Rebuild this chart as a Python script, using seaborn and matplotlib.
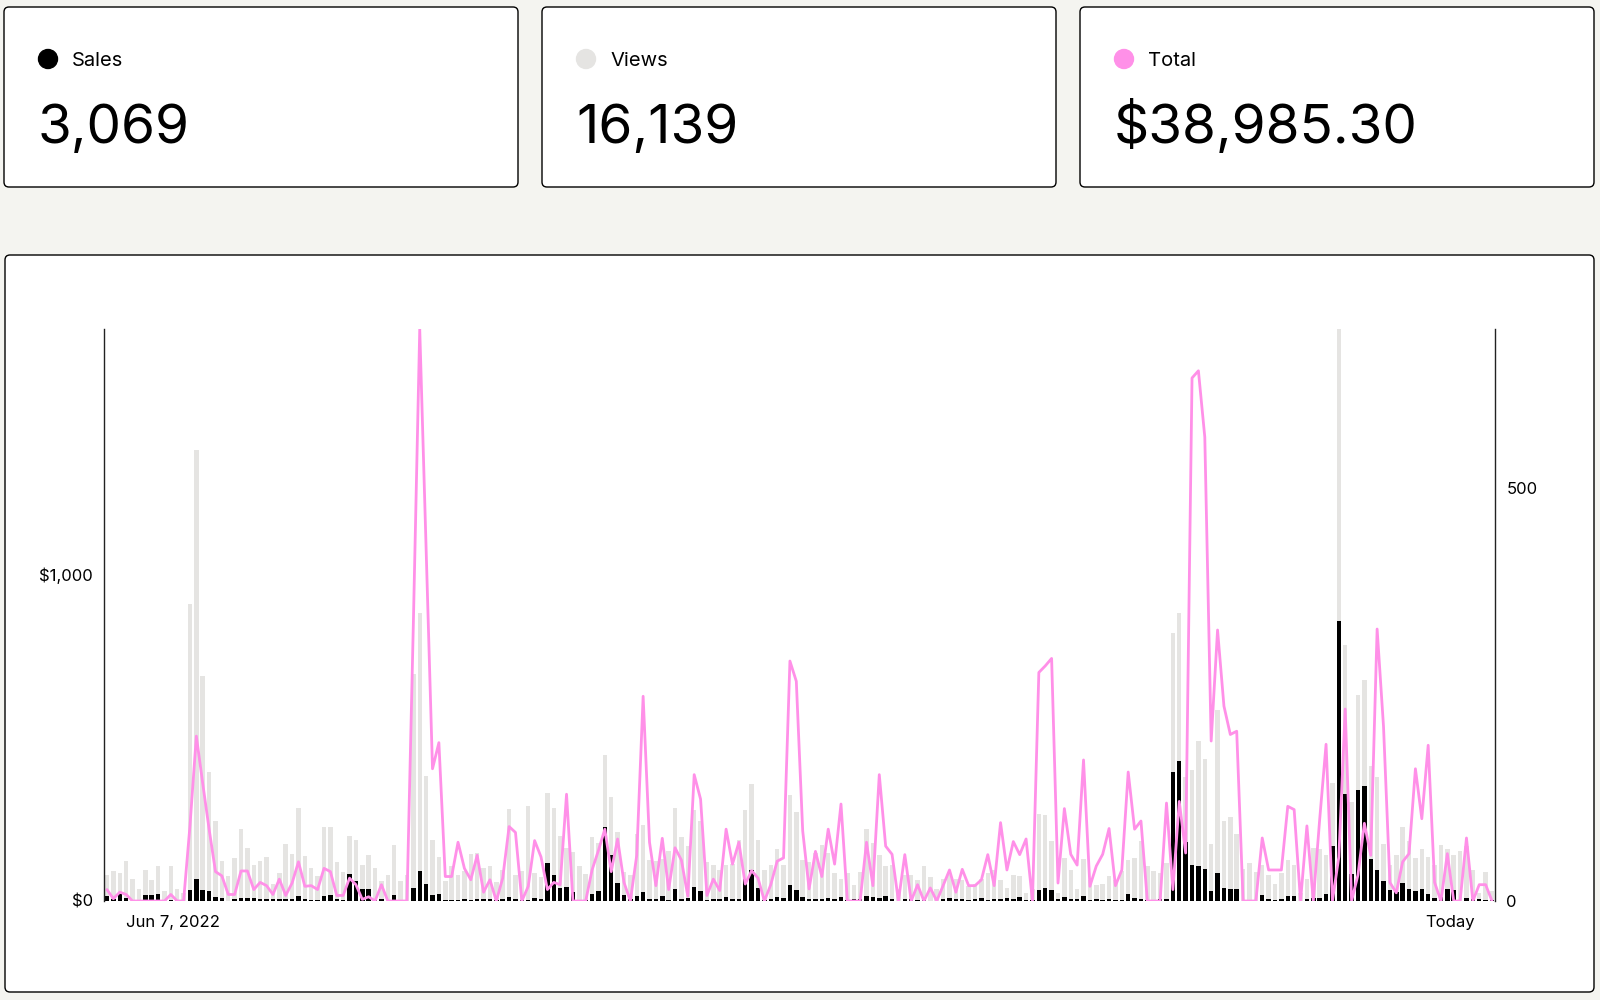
import matplotlib.pyplot as plt
import seaborn as sns
from matplotlib.patches import FancyBboxPatch, Circle
from matplotlib.transforms import Affine2D

# daily views (right axis), daily sales (right axis), daily total in $ (left axis)
views = [31, 36, 34, 48, 27, 14, 37, 26, 42, 12,
         42, 14, 10, 359, 546, 272, 156, 97, 48, 30,
         52, 87, 64, 43, 48, 53, 21, 34, 69, 57,
         113, 54, 40, 30, 89, 89, 47, 35, 79, 74,
         44, 56, 40, 24, 32, 68, 24, 31, 275, 348,
         151, 74, 53, 24, 42, 32, 36, 57, 58, 40,
         42, 23, 38, 111, 31, 36, 115, 34, 29, 131,
         113, 79, 64, 59, 42, 33, 77, 70, 177, 126,
         83, 35, 31, 81, 92, 50, 48, 51, 60, 113,
         77, 66, 110, 97, 47, 43, 38, 44, 45, 74,
         110, 142, 74, 37, 43, 63, 43, 128, 108, 49,
         47, 58, 68, 58, 34, 27, 34, 19, 35, 87,
         70, 56, 42, 43, 14, 32, 32, 26, 42, 29,
         15, 27, 31, 27, 26, 18, 20, 27, 34, 37,
         25, 16, 32, 30, 10, 14, 105, 104, 73, 10,
         52, 37, 14, 51, 25, 19, 21, 30, 26, 36,
         49, 52, 73, 42, 36, 34, 46, 324, 349, 150,
         159, 193, 172, 69, 231, 97, 102, 81, 39, 46,
         35, 43, 31, 20, 34, 49, 43, 10, 27, 64,
         63, 56, 143, 692, 310, 120, 249, 267, 163, 150,
         69, 44, 56, 89, 72, 52, 63, 53, 44, 68,
         63, 56, 61, 67, 38, 10, 35, 12]

sales = [6, 3, 8, 4, 0, 0, 7, 7, 9, 0,
         1, 1, 0, 13, 27, 13, 12, 5, 4, 0,
         2, 4, 4, 4, 3, 2, 2, 2, 2, 2,
         6, 2, 1, 1, 6, 7, 2, 1, 33, 24,
         14, 14, 2, 2, 0, 7, 1, 0, 16, 36,
         21, 7, 9, 1, 1, 1, 2, 1, 3, 2,
         2, 1, 2, 5, 2, 1, 1, 4, 3, 46,
         31, 16, 17, 11, 1, 1, 8, 12, 89, 56,
         22, 7, 2, 6, 11, 3, 2, 6, 1, 15,
         3, 4, 17, 12, 1, 2, 2, 5, 3, 3,
         27, 38, 16, 1, 2, 5, 4, 19, 13, 5,
         2, 3, 2, 4, 2, 5, 1, 2, 3, 6,
         5, 4, 6, 2, 0, 2, 2, 1, 2, 0,
         0, 3, 4, 3, 2, 1, 2, 4, 1, 3,
         3, 4, 3, 5, 1, 1, 13, 16, 13, 3,
         5, 2, 2, 6, 1, 2, 1, 2, 1, 1,
         8, 4, 3, 1, 1, 2, 3, 156, 169, 71,
         43, 42, 39, 12, 34, 16, 15, 14, 0, 0,
         0, 7, 3, 1, 2, 6, 6, 0, 3, 4,
         4, 8, 66, 339, 129, 33, 134, 139, 51, 38,
         24, 13, 11, 22, 15, 12, 14, 9, 4, 5,
         14, 13, 0, 4, 2, 3, 1, 1]

total = [35, 7, 27, 20, 0, 0, 0, 0, 0, 0,
         20, 0, 0, 230, 505, 360, 220, 90, 77, 20,
         20, 92, 92, 35, 57, 47, 20, 67, 17, 55,
         120, 45, 47, 35, 100, 90, 17, 17, 70, 50,
         5, 13, 0, 50, 0, 0, 0, 0, 850, 1752,
         1080, 405, 485, 75, 75, 180, 100, 65, 140, 27,
         65, 0, 70, 228, 210, 0, 45, 185, 135, 35,
         57, 50, 327, 0, 0, 0, 95, 155, 220, 90,
         190, 57, 0, 140, 627, 180, 47, 192, 35, 163,
         125, 15, 387, 312, 17, 67, 32, 220, 113, 180,
         52, 93, 70, 0, 50, 122, 132, 735, 673, 215,
         37, 152, 75, 220, 113, 297, 0, 0, 0, 180,
         47, 387, 168, 143, 0, 142, 0, 50, 0, 40,
         0, 47, 95, 27, 97, 47, 47, 65, 142, 47,
         240, 95, 182, 142, 190, 0, 700, 720, 743, 55,
         283, 143, 110, 432, 45, 107, 143, 222, 47, 95,
         395, 220, 245, 0, 0, 0, 300, 35, 305, 147,
         1602, 1624, 1421, 490, 830, 597, 510, 520, 0, 0,
         0, 193, 95, 95, 95, 290, 280, 0, 230, 0,
         250, 480, 0, 135, 588, 0, 80, 238, 140, 833,
         535, 57, 25, 120, 145, 405, 252, 477, 57, 0,
         145, 0, 0, 193, 0, 50, 50, 0]

days = list(range(len(views)))

card_labels = ['Sales', 'Views', 'Total']
card_values = ['3,069', '16,139', '$38,985.30']
card_colors = ['#000000', '#e5e4e2', '#ff90e8']

sns.set_theme(style='white')
plt.rcParams['font.family'] = ['Inter', 'DejaVu Sans']
plt.rcParams['text.color'] = 'black'

W, H = 1600, 1000
fig = plt.figure(figsize=(16, 10), dpi=100, facecolor='#f4f4f0')
pxt = Affine2D().scale(1 / fig.dpi) + fig.dpi_scale_trans  # pixel coords, origin bottom-left


def card(x0, y0, x1, y1):
    fig.add_artist(FancyBboxPatch((x0, H - y1), x1 - x0, y1 - y0,
                                  boxstyle='round,pad=0,rounding_size=5',
                                  facecolor='white', edgecolor='black', linewidth=1,
                                  transform=pxt, zorder=0))


# stat cards
card_x = [4, 542, 1080]
for k, x0 in enumerate(card_x):
    card(x0, 7, x0 + 514, 187)
    fig.add_artist(Circle((x0 + 44, H - 59), 9.5, color=card_colors[k], transform=pxt))
    fig.text(x0 + 68, H - 66, card_labels[k], transform=pxt, fontsize=14.5,
             va='baseline', color='black')
    fig.text(x0 + 34, H - 143, card_values[k], transform=pxt, fontsize=39.5,
             va='baseline', color='black')

# chart card
card(5, 255, 1594, 992)

ax = fig.add_axes([103.8 / W, 1 - 901 / H, (1495.2 - 103.8) / W, (901 - 329) / H])
ax2 = ax.twinx()

sns.barplot(x=days, y=views, native_scale=True, color='#e5e4e2', width=0.7,
            saturation=1, linewidth=0, ax=ax2)
sns.barplot(x=days, y=sales, native_scale=True, color='black', width=0.7,
            saturation=1, linewidth=0, ax=ax2)
sns.lineplot(x=days, y=total, color='#ff90e8', linewidth=2, ax=ax)

ax.set_zorder(ax2.get_zorder() + 1)
ax.patch.set_visible(False)
ax2.patch.set_visible(False)

ax.set_xlim(-0.5, len(days) - 0.5)
ax.set_ylim(0, max(total))
ax2.set_ylim(0, max(views))

for a in (ax, ax2):
    for s in a.spines.values():
        s.set_visible(False)
    a.set_xlabel('')
    a.set_ylabel('')
ax.spines['left'].set_visible(True)
ax.spines['left'].set_color('#222222')
ax.spines['left'].set_linewidth(1)
ax2.spines['right'].set_visible(True)
ax2.spines['right'].set_color('#222222')
ax2.spines['right'].set_linewidth(1)

ax.set_yticks([0, 1000], ['$0', '$1,000'])
ax2.set_yticks([0, 500], ['0', '500'])
ax.set_xticks([10.3, 210.5], ['Jun 7, 2022', 'Today'])
ax.tick_params(axis='both', length=0, labelsize=12, colors='black')
ax.tick_params(axis='y', pad=8)
ax.tick_params(axis='x', pad=10)
ax2.tick_params(axis='y', length=0, labelsize=12, colors='black', pad=8)

fig.savefig('out.png', dpi=100, facecolor=fig.get_facecolor())
